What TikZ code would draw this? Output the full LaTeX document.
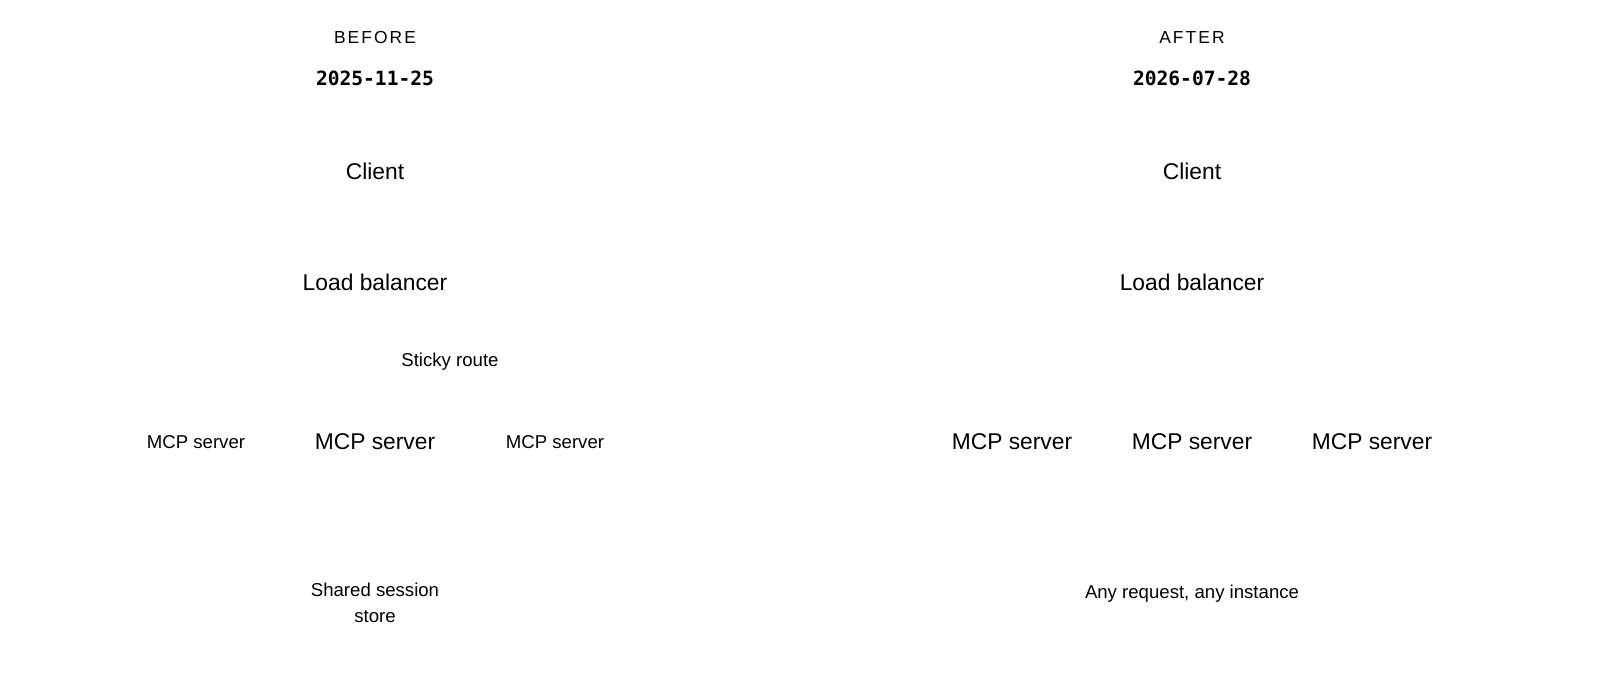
\documentclass[tikz,border=0pt]{standalone}
\usepackage{fontspec}
\setmainfont{Liberation Sans}
\setmonofont{DejaVu Sans Mono}
\usepackage{tikz}

\begin{document}
\begin{tikzpicture}[x=0.5pt, y=-0.5pt,
  every node/.style={inner sep=1pt, align=center},
  tag/.style={font=\fontsize{8.7}{10}\selectfont\addfontfeature{LetterSpace=12}},
  date/.style={font=\fontsize{9.8}{11}\ttfamily\bfseries},
  big/.style={font=\fontsize{11.4}{13}\selectfont},
  small/.style={font=\fontsize{9.3}{12.8}\selectfont}]
\useasboundingbox (0,0) rectangle (1600,700);
%
\node [tag]   (befTag)   at (375, 38)  {BEFORE};
\node [date]  (befDate)  at (375, 78)  {2025-11-25};
\node [big]   (befClient) at (375, 171) {Client};
\node [big]   (befLB)    at (375, 282) {Load balancer};
\node [small] (befSticky) at (450, 362) {Sticky route};
\node [small] (befSrvA)  at (196, 442) {MCP server};
\node [big]   (befSrvB)  at (375, 442) {MCP server};
\node [small] (befSrvC)  at (555, 442) {MCP server};
\node [small] (befStore) at (375, 603) {Shared session\\store};
%
\node [tag]   (aftTag)   at (1192, 38)  {AFTER};
\node [date]  (aftDate)  at (1192, 78)  {2026-07-28};
\node [big]   (aftClient) at (1192, 171) {Client};
\node [big]   (aftLB)    at (1192, 282) {Load balancer};
\node [big]   (aftSrvA)  at (1012, 442) {MCP server};
\node [big]   (aftSrvB)  at (1192, 442) {MCP server};
\node [big]   (aftSrvC)  at (1372, 442) {MCP server};
\node [small] (aftAny)   at (1192, 594) {Any request, any instance};
%%%%%%%%%%%%%%%%%%%%%%%%%%%%%%%
\end{tikzpicture}
\end{document}
